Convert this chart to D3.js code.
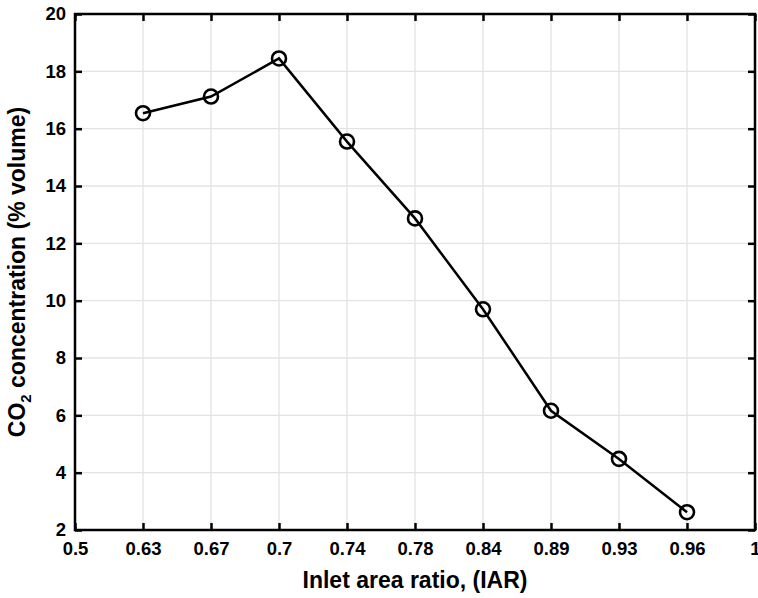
<!DOCTYPE html>
<html>
<head>
<meta charset="utf-8">
<script src="https://cdn.jsdelivr.net/npm/d3@7"></script>
<style>
  html, body { margin: 0; padding: 0; background: #fff; }
  svg { display: block; }
  text { font-family: "Liberation Sans", Arial, sans-serif; font-weight: bold; fill: #000; }
</style>
</head>
<body>
<svg id="chart" width="758" height="598"></svg>
<script>
// Inlet area ratio categories shown on the x axis (evenly spaced)
const xTickLabels = ["0.5", "0.63", "0.67", "0.7", "0.74", "0.78", "0.84", "0.89", "0.93", "0.96", "1"];
// Measured IAR values
const iar = ["0.63", "0.67", "0.7", "0.74", "0.78", "0.84", "0.89", "0.93", "0.96"];
// CO2 concentration (% volume) for each IAR
const co2 = [16.54, 17.12, 18.45, 15.55, 12.87, 9.70, 6.16, 4.48, 2.62];
// Y axis ticks
const yTicks = [2, 4, 6, 8, 10, 12, 14, 16, 18, 20];

const width = 758, height = 598;
const margin = { top: 14, right: 3, bottom: 68, left: 75 };
const x0 = margin.left, x1 = width - margin.right;
const y0 = height - margin.bottom, y1 = margin.top;

const svg = d3.select("#chart");

const x = d3.scalePoint().domain(xTickLabels).range([x0, x1]).padding(0);
const y = d3.scaleLinear().domain([2, 20]).range([y0, y1]);

// Grid
const grid = svg.append("g").attr("stroke", "#e3e3e3").attr("stroke-width", 1.3);
grid.selectAll("line.vx").data(xTickLabels).join("line")
  .attr("x1", d => x(d)).attr("x2", d => x(d))
  .attr("y1", y0).attr("y2", y1);
grid.selectAll("line.hy").data(yTicks).join("line")
  .attr("x1", x0).attr("x2", x1)
  .attr("y1", d => y(d)).attr("y2", d => y(d));

// Axes with inward ticks on all four sides
const tickLen = 7;
const fontSize = 18.5;

const xAxis = svg.append("g").attr("transform", `translate(0,${y0})`)
  .call(d3.axisBottom(x).tickSizeInner(-tickLen).tickSizeOuter(0).tickPadding(12));
const xAxisTop = svg.append("g").attr("transform", `translate(0,${y1})`)
  .call(d3.axisTop(x).tickSizeInner(-tickLen).tickSizeOuter(0).tickFormat(""));
const yAxis = svg.append("g").attr("transform", `translate(${x0},0)`)
  .call(d3.axisLeft(y).tickValues(yTicks).tickSizeInner(-tickLen).tickSizeOuter(0).tickPadding(9));
const yAxisRight = svg.append("g").attr("transform", `translate(${x1},0)`)
  .call(d3.axisRight(y).tickValues(yTicks).tickSizeInner(-tickLen).tickSizeOuter(0).tickFormat(""));

[xAxis, xAxisTop, yAxis, yAxisRight].forEach(g => {
  g.select(".domain").remove();
  g.selectAll(".tick line").attr("stroke", "#000").attr("stroke-width", 2.5);
  g.selectAll(".tick text")
    .style("font-family", '"Liberation Sans", Arial, sans-serif')
    .style("font-weight", "bold")
    .style("font-size", fontSize + "px")
    .attr("fill", "#000");
});

// Frame
svg.append("rect")
  .attr("x", x0).attr("y", y1)
  .attr("width", x1 - x0).attr("height", y0 - y1)
  .attr("fill", "none").attr("stroke", "#000").attr("stroke-width", 2.5);

// Data line
const line = d3.line().x((d, i) => x(iar[i])).y(d => y(d));
svg.append("path")
  .datum(co2)
  .attr("d", line)
  .attr("fill", "none")
  .attr("stroke", "#000")
  .attr("stroke-width", 2.5);

// Markers
svg.append("g").selectAll("circle").data(co2).join("circle")
  .attr("cx", (d, i) => x(iar[i]))
  .attr("cy", d => y(d))
  .attr("r", 7)
  .attr("fill", "none")
  .attr("stroke", "#000")
  .attr("stroke-width", 2.6);

// Axis titles
svg.append("text")
  .attr("x", (x0 + x1) / 2)
  .attr("y", 588)
  .attr("text-anchor", "middle")
  .style("font-size", "23px")
  .text("Inlet area ratio, (IAR)");

const yTitle = svg.append("text")
  .attr("transform", `translate(25,${(y0 + y1) / 2}) rotate(-90)`)
  .attr("text-anchor", "middle")
  .style("font-size", "23px");
yTitle.append("tspan").text("CO");
yTitle.append("tspan").attr("dy", 6).style("font-size", "15px").text("2");
yTitle.append("tspan").attr("dy", -6).text(" concentration (% volume)");
</script>
</body>
</html>
